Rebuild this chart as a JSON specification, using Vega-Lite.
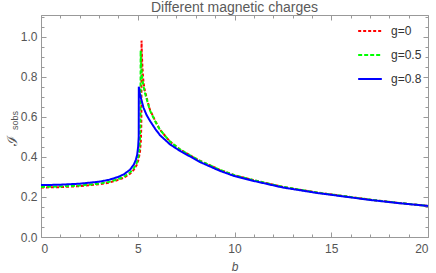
{
  "$schema": "https://vega.github.io/schema/vega-lite/v6.json",
  "width": 387,
  "height": 222,
  "autosize": {"type": "none"},
  "padding": {"left": 41, "top": 15, "right": 8, "bottom": 36},
  "title": {"text": "Different  magnetic charges", "fontSize": 14, "font": "Liberation Sans", "fontWeight": "normal", "color": "#5a5a5a", "offset": 0},
  "config": {
    "view": {"stroke": "#999999", "strokeWidth": 1},
    "axis": {"grid": false, "domain": false, "tickColor": "#999999", "labelColor": "#555555", "labelFont": "Liberation Sans", "labelFontSize": 12, "titleColor": "#555555", "titleFont": "Liberation Sans", "titleFontWeight": "normal"},
    "legend": {"labelFont": "Liberation Sans", "labelFontSize": 12, "labelColor": "#333333"}
  },
  "data": {"values": [
    {"g":"g=0","b":0,"I":0.247},{"g":"g=0","b":1,"I":0.249},{"g":"g=0","b":2,"I":0.254},{"g":"g=0","b":3,"I":0.263},{"g":"g=0","b":3.5,"I":0.271},{"g":"g=0","b":4,"I":0.285},{"g":"g=0","b":4.3,"I":0.297},{"g":"g=0","b":4.6,"I":0.316},{"g":"g=0","b":4.8,"I":0.336},{"g":"g=0","b":4.95,"I":0.36},{"g":"g=0","b":5.05,"I":0.39},{"g":"g=0","b":5.12,"I":0.43},{"g":"g=0","b":5.16,"I":0.48},{"g":"g=0","b":5.18,"I":0.54},{"g":"g=0","b":5.19,"I":0.62},{"g":"g=0","b":5.196,"I":0.98},{"g":"g=0","b":5.21,"I":0.92},{"g":"g=0","b":5.25,"I":0.83},{"g":"g=0","b":5.3,"I":0.77},{"g":"g=0","b":5.37,"I":0.73},{"g":"g=0","b":5.5,"I":0.68},{"g":"g=0","b":5.63,"I":0.635},{"g":"g=0","b":5.9,"I":0.58},{"g":"g=0","b":6.15,"I":0.535},{"g":"g=0","b":6.67,"I":0.476},{"g":"g=0","b":7.18,"I":0.437},{"g":"g=0","b":7.7,"I":0.408},{"g":"g=0","b":8.22,"I":0.38},{"g":"g=0","b":9.25,"I":0.335},{"g":"g=0","b":10,"I":0.308},{"g":"g=0","b":10.8,"I":0.288},{"g":"g=0","b":12.5,"I":0.25},{"g":"g=0","b":14.26,"I":0.222},{"g":"g=0","b":15.97,"I":0.2},{"g":"g=0","b":17.1,"I":0.185},{"g":"g=0","b":18.5,"I":0.17},{"g":"g=0","b":20,"I":0.155},
    {"g":"g=0.5","b":0,"I":0.25},{"g":"g=0.5","b":1,"I":0.252},{"g":"g=0.5","b":2,"I":0.257},{"g":"g=0.5","b":3,"I":0.266},{"g":"g=0.5","b":3.5,"I":0.275},{"g":"g=0.5","b":4,"I":0.289},{"g":"g=0.5","b":4.3,"I":0.302},{"g":"g=0.5","b":4.6,"I":0.322},{"g":"g=0.5","b":4.8,"I":0.343},{"g":"g=0.5","b":4.95,"I":0.37},{"g":"g=0.5","b":5.03,"I":0.4},{"g":"g=0.5","b":5.09,"I":0.44},{"g":"g=0.5","b":5.12,"I":0.5},{"g":"g=0.5","b":5.14,"I":0.58},{"g":"g=0.5","b":5.15,"I":0.93},{"g":"g=0.5","b":5.17,"I":0.87},{"g":"g=0.5","b":5.22,"I":0.8},{"g":"g=0.5","b":5.3,"I":0.75},{"g":"g=0.5","b":5.37,"I":0.72},{"g":"g=0.5","b":5.5,"I":0.675},{"g":"g=0.5","b":5.63,"I":0.632},{"g":"g=0.5","b":5.9,"I":0.578},{"g":"g=0.5","b":6.15,"I":0.535},{"g":"g=0.5","b":6.67,"I":0.476},{"g":"g=0.5","b":7.18,"I":0.437},{"g":"g=0.5","b":7.7,"I":0.408},{"g":"g=0.5","b":8.22,"I":0.38},{"g":"g=0.5","b":9.25,"I":0.335},{"g":"g=0.5","b":10,"I":0.308},{"g":"g=0.5","b":10.8,"I":0.288},{"g":"g=0.5","b":12.5,"I":0.25},{"g":"g=0.5","b":14.26,"I":0.222},{"g":"g=0.5","b":15.97,"I":0.2},{"g":"g=0.5","b":17.1,"I":0.185},{"g":"g=0.5","b":18.5,"I":0.17},{"g":"g=0.5","b":20,"I":0.155},
    {"g":"g=0.8","b":0,"I":0.259},{"g":"g=0.8","b":1,"I":0.261},{"g":"g=0.8","b":2,"I":0.266},{"g":"g=0.8","b":3,"I":0.276},{"g":"g=0.8","b":3.5,"I":0.285},{"g":"g=0.8","b":4,"I":0.3},{"g":"g=0.8","b":4.3,"I":0.314},{"g":"g=0.8","b":4.6,"I":0.336},{"g":"g=0.8","b":4.8,"I":0.362},{"g":"g=0.8","b":4.9,"I":0.385},{"g":"g=0.8","b":4.97,"I":0.41},{"g":"g=0.8","b":5.02,"I":0.45},{"g":"g=0.8","b":5.05,"I":0.5},{"g":"g=0.8","b":5.055,"I":0.75},{"g":"g=0.8","b":5.1,"I":0.72},{"g":"g=0.8","b":5.2,"I":0.68},{"g":"g=0.8","b":5.3,"I":0.645},{"g":"g=0.8","b":5.45,"I":0.61},{"g":"g=0.8","b":5.63,"I":0.58},{"g":"g=0.8","b":5.9,"I":0.54},{"g":"g=0.8","b":6.15,"I":0.508},{"g":"g=0.8","b":6.67,"I":0.462},{"g":"g=0.8","b":7.18,"I":0.43},{"g":"g=0.8","b":7.7,"I":0.402},{"g":"g=0.8","b":8.22,"I":0.374},{"g":"g=0.8","b":9.25,"I":0.33},{"g":"g=0.8","b":10,"I":0.304},{"g":"g=0.8","b":10.8,"I":0.284},{"g":"g=0.8","b":12.5,"I":0.247},{"g":"g=0.8","b":14.26,"I":0.22},{"g":"g=0.8","b":15.97,"I":0.198},{"g":"g=0.8","b":17.1,"I":0.184},{"g":"g=0.8","b":18.5,"I":0.169},{"g":"g=0.8","b":20,"I":0.155}
  ]},
  "layer": [
    {
      "mark": {"type": "line", "strokeWidth": 2, "opacity": 0},
      "encoding": {
        "x": {"field": "b", "type": "quantitative", "scale": {"domain": [0, 20], "nice": false, "zero": false},
              "axis": {"orient": "top", "values": [1,2,3,4,6,7,8,9,11,12,13,14,16,17,18,19], "labels": false, "tickSize": -3, "title": null}},
        "y": {"field": "I", "type": "quantitative", "scale": {"domain": [0, 1.108], "nice": false},
              "axis": {"orient": "right", "values": [0.05,0.1,0.15,0.25,0.3,0.35,0.45,0.5,0.55,0.65,0.7,0.75,0.85,0.9,0.95,1.05,1.1], "labels": false, "tickSize": -3, "title": null}},
        "detail": {"field": "g"}
      }
    },
    {
      "mark": {"type": "line", "strokeWidth": 2, "opacity": 0},
      "encoding": {
        "x": {"field": "b", "type": "quantitative",
              "axis": {"orient": "top", "values": [0,5,10,15,20], "labels": false, "tickSize": -5, "title": null}},
        "y": {"field": "I", "type": "quantitative",
              "axis": {"orient": "right", "values": [0,0.2,0.4,0.6,0.8,1.0], "labels": false, "tickSize": -5, "title": null}},
        "detail": {"field": "g"}
      }
    },
    {
      "mark": {"type": "line", "strokeWidth": 2, "opacity": 0},
      "encoding": {
        "x": {"field": "b", "type": "quantitative",
              "axis": {"orient": "bottom", "values": [1,2,3,4,6,7,8,9,11,12,13,14,16,17,18,19], "labels": false, "tickSize": -3, "title": null}},
        "y": {"field": "I", "type": "quantitative",
              "axis": {"orient": "left", "values": [0.05,0.1,0.15,0.25,0.3,0.35,0.45,0.5,0.55,0.65,0.7,0.75,0.85,0.9,0.95,1.05,1.1], "labels": false, "tickSize": -3,
                       "title": "sobs", "titleFontSize": 9, "titleAngle": -90, "titleX": -27, "titleY": 105, "titleAlign": "center", "titleBaseline": "middle"}},
        "detail": {"field": "g"}
      }
    },
    {
      "mark": {"type": "line", "strokeWidth": 2},
      "encoding": {
        "x": {"field": "b", "type": "quantitative",
              "axis": {"orient": "bottom", "values": [0,5,10,15,20], "format": "d", "tickSize": -5, "labelPadding": 11,
                       "title": "b", "titleFontStyle": "italic", "titleFontSize": 12, "titleX": 193.5, "titleY": 29, "titleBaseline": "middle"}},
        "y": {"field": "I", "type": "quantitative",
              "axis": {"orient": "left", "values": [0,0.2,0.4,0.6,0.8,1.0], "format": ".1f", "tickSize": -5, "labelPadding": 9,
                       "title": "ℐ", "titleFontSize": 14, "titleAngle": -90, "titleX": -29, "titleY": 125, "titleAlign": "center", "titleBaseline": "middle"}},
        "color": {"field": "g", "type": "nominal", "scale": {"domain": ["g=0","g=0.5","g=0.8"], "range": ["#ff0000","#00ff00","#0000ff"]},
                  "legend": {"title": null, "orient": "none", "legendX": 316, "legendY": 3, "symbolType": "stroke", "symbolSize": 560, "symbolStrokeWidth": 2, "rowPadding": 5, "labelOffset": 8}},
        "strokeDash": {"field": "g", "type": "nominal", "scale": {"domain": ["g=0","g=0.5","g=0.8"], "range": [[3,2],[4,2],[1,0]]}, "legend": {"title": null, "orient": "none", "legendX": 316, "legendY": 3, "symbolType": "stroke", "symbolSize": 560, "symbolStrokeWidth": 2, "rowPadding": 5, "labelOffset": 8}}
      }
    }
  ],
  "resolve": {"axis": {"x": "independent", "y": "independent"}}
}
